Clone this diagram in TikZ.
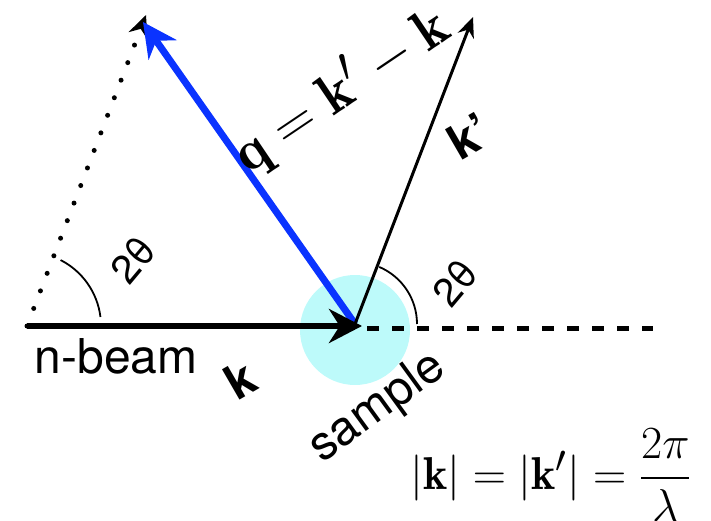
\documentclass[tikz,border=0pt]{standalone}
\usepackage{amsmath}
\usepackage{fontspec}
\setsansfont{TeX Gyre Heros}
\usetikzlibrary{arrows.meta}
\definecolor{Qblue}{HTML}{0A33FF}
\definecolor{SampleCyan}{HTML}{BDFAFA}
\tikzset{lbl/.style={font=\sffamily\fontsize{48}{52}\selectfont,inner sep=0pt},vlbl/.style={font=\sffamily\bfseries\fontsize{48}{52}\selectfont,inner sep=0pt,rotate=30},ang/.style={font=\sffamily\fontsize{40}{44}\selectfont,inner sep=0pt,rotate=50},angarc/.style={line width=1.8pt},sample/.style={circle,fill=SampleCyan,minimum size=110pt,inner sep=0pt},beam/.style={line width=6.5pt,-{Stealth[length=33pt,width=34pt]}},bigmath/.style={font=\Huge,inner sep=0pt,transform shape}}

\begin{document}
\begin{tikzpicture}[x=1pt,y=1pt]
  \useasboundingbox (0,0) rectangle (711,520);
  \node[sample](smp) at (355,190){};
  \coordinate (src) at (27,194);
  \coordinate (hit) at (355,196);
  \coordinate (ktip) at (362,194);
  \coordinate (kptip) at (473,503);
  \coordinate (mtip) at (146,505);
  \coordinate (qtip) at (143,498);
  \coordinate (dstart) at (367,192);
  \coordinate (dend) at (653,192);
  % rotated copy of k', dotted
  \draw[line width=5pt,line cap=round,dash pattern=on 0pt off 18.8pt,-{Stealth[length=22pt,width=20pt]}](src)--(mtip);
  \draw[line width=7pt,draw=Qblue,-{Stealth[length=34pt,width=34pt,fill=Qblue]}](hit)--(qtip);
  \draw[line width=3pt,-{Stealth[length=20pt,width=17pt]}](hit)--(kptip);
  \draw[line width=5pt,dash pattern=on 12pt off 13pt](dstart)--(dend);
  \draw[beam](src)--(ktip);
  % angles
  \draw[angarc](src) ++(7:74) arc[start angle=7,end angle=63,radius=74];
  \draw[angarc](hit) ++(0:62) arc[start angle=0,end angle=67,radius=62];
  \node[ang](lang) at (133,260){2θ};
  \node[ang](rang) at (455,237){2θ};
  % labels
  \node[lbl](nbeam) at (116,164){n-beam};
  \node[vlbl](klbl) at (240,140){k};
  \node[vlbl](kplbl) at (469,384){k’};
  \node[lbl,rotate=36](slbl) at (378,112){sample};
  \node[bigmath,rotate=34,scale=2.3](qlbl) at (341,430){$\mathbf{q}=\mathbf{k}'-\mathbf{k}$};
  \node[bigmath,scale=1.85](eq) at (551,45){$|\mathbf{k}|=|\mathbf{k}'|=\dfrac{2\pi}{\lambda}$};
\end{tikzpicture}
\end{document}
